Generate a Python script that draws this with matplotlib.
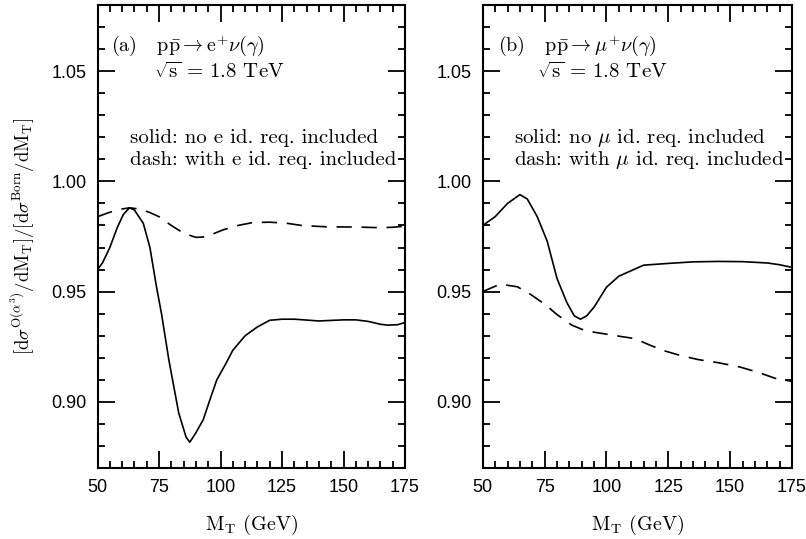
import matplotlib
matplotlib.use("Agg")
import matplotlib.pyplot as plt
from matplotlib.ticker import MultipleLocator

# ---- data ----
mt_a_solid = [50, 52, 55, 58, 60.5, 63, 65, 68.6, 71.3, 74, 76, 79, 83, 86, 87.5, 90, 93, 96, 98.5, 102, 105, 110, 115, 120, 125, 130, 140, 150, 155, 160, 165, 168, 172, 175]
r_a_solid = [0.960, 0.963, 0.970, 0.979, 0.985, 0.988, 0.987, 0.981, 0.970, 0.952, 0.940, 0.919, 0.895, 0.884, 0.8817, 0.886, 0.892, 0.902, 0.910, 0.917, 0.9234, 0.930, 0.934, 0.937, 0.9375, 0.9375, 0.9367, 0.9372, 0.9372, 0.9365, 0.9352, 0.9348, 0.935, 0.936]

mt_a_dash = [50, 55, 60, 63, 67, 71, 75, 80, 85, 90, 93, 97, 101, 107, 113, 120, 127, 133, 143, 155, 165, 170, 175]
r_a_dash = [0.984, 0.986, 0.9875, 0.988, 0.9875, 0.986, 0.984, 0.980, 0.9765, 0.9746, 0.9748, 0.9762, 0.978, 0.980, 0.9813, 0.9815, 0.981, 0.980, 0.9794, 0.9793, 0.979, 0.9792, 0.9797]

mt_b_solid = [50, 55, 60, 65, 68, 72, 76, 80, 84, 87, 89.5, 92, 95, 100, 105, 110, 115, 125, 135, 145, 155, 165, 170, 175]
r_b_solid = [0.980, 0.984, 0.990, 0.994, 0.992, 0.984, 0.973, 0.956, 0.945, 0.939, 0.9375, 0.939, 0.943, 0.952, 0.957, 0.9595, 0.962, 0.9628, 0.9635, 0.9637, 0.9636, 0.963, 0.9622, 0.961]

mt_b_dash = [50, 52, 57, 64, 69.4, 75.5, 80, 86, 91.6, 98.4, 105, 111.5, 117.6, 123.6, 129.7, 137, 145, 154, 161, 168.7, 175]
r_b_dash = [0.950, 0.951, 0.9534, 0.9522, 0.9487, 0.9439, 0.9396, 0.9348, 0.9322, 0.931, 0.9298, 0.9287, 0.9257, 0.9231, 0.9211, 0.9192, 0.9178, 0.9158, 0.9135, 0.9105, 0.9093]

xticks = [50, 75, 100, 125, 150, 175]
yticks = [0.90, 0.95, 1.00, 1.05]
ytick_labels = ["0.90", "0.95", "1.00", "1.05"]

plt.rcParams['mathtext.fontset'] = 'cm'
plt.rcParams['lines.scale_dashes'] = False
plt.rcParams['axes.unicode_minus'] = False

fig = plt.figure(figsize=(8.06, 5.39), dpi=100)
ax1 = fig.add_axes([0.121, 0.1317, 0.3815, 0.859])
ax2 = fig.add_axes([0.599, 0.1317, 0.3836, 0.859])

serif = 'cmr10'
tickfont = 'Liberation Sans'

def style(ax):
    ax.set_xlim(50, 175)
    ax.set_ylim(0.87, 1.08)
    ax.set_xticks(xticks)
    ax.set_xticklabels([str(t) for t in xticks])
    ax.set_yticks(yticks)
    ax.set_yticklabels(ytick_labels)
    ax.xaxis.set_minor_locator(MultipleLocator(5))
    ax.yaxis.set_minor_locator(MultipleLocator(0.01))
    ax.tick_params(which='both', direction='in', top=True, right=True, width=1.3)
    ax.tick_params(which='major', length=12, labelsize=13, pad=8)
    ax.tick_params(which='minor', length=5)
    for lab in ax.get_xticklabels() + ax.get_yticklabels():
        lab.set_fontfamily(tickfont)
    for s in ax.spines.values():
        s.set_linewidth(1.5)
    ax.set_xlabel(r'$\mathrm{M_T}$ (GeV)', fontsize=14.5, family=serif, labelpad=12)

style(ax1)
style(ax2)

ax1.plot(mt_a_solid, r_a_solid, color='black', lw=1.2)
ax1.plot(mt_a_dash, r_a_dash, color='black', lw=1.2, dashes=(11, 7))
ax2.plot(mt_b_solid, r_b_solid, color='black', lw=1.2)
ax2.plot(mt_b_dash, r_b_dash, color='black', lw=1.2, dashes=(11, 7))

ax1.set_ylabel(r'$[\mathrm{d}\sigma^{\mathrm{O}(\alpha^3)}/\mathrm{dM_T}]/[\mathrm{d}\sigma^{\mathrm{Born}}/\mathrm{dM_T}]$',
               fontsize=13.5, labelpad=10)

fs = 14.5
fs2 = 15
ax1.text(55.5, 1.0615, r'(a)   $\mathrm{p\bar{p}}\rightarrow \mathrm{e}^{+}\nu(\gamma)$', fontsize=fs, va='center', family=serif)
ax1.text(73, 1.0495, r'$\sqrt{\mathrm{s}}$ = 1.8 TeV', fontsize=fs2, va='center', family=serif)
ax1.text(63, 1.0198, 'solid: no e id. req. included', fontsize=fs2, va='center', family=serif)
ax1.text(63, 1.0098, 'dash: with e id. req. included', fontsize=fs2, va='center', family=serif)

ax2.text(56, 1.0615, r'(b)   $\mathrm{p\bar{p}}\rightarrow \mu^{+}\nu(\gamma)$', fontsize=fs, va='center', family=serif)
ax2.text(72, 1.0495, r'$\sqrt{\mathrm{s}}$ = 1.8 TeV', fontsize=fs2, va='center', family=serif)
ax2.text(62.5, 1.0198, r'solid: no $\mu$ id. req. included', fontsize=fs2, va='center', family=serif)
ax2.text(62.5, 1.0098, r'dash: with $\mu$ id. req. included', fontsize=fs2, va='center', family=serif)

fig.savefig('out.png', dpi=100)
